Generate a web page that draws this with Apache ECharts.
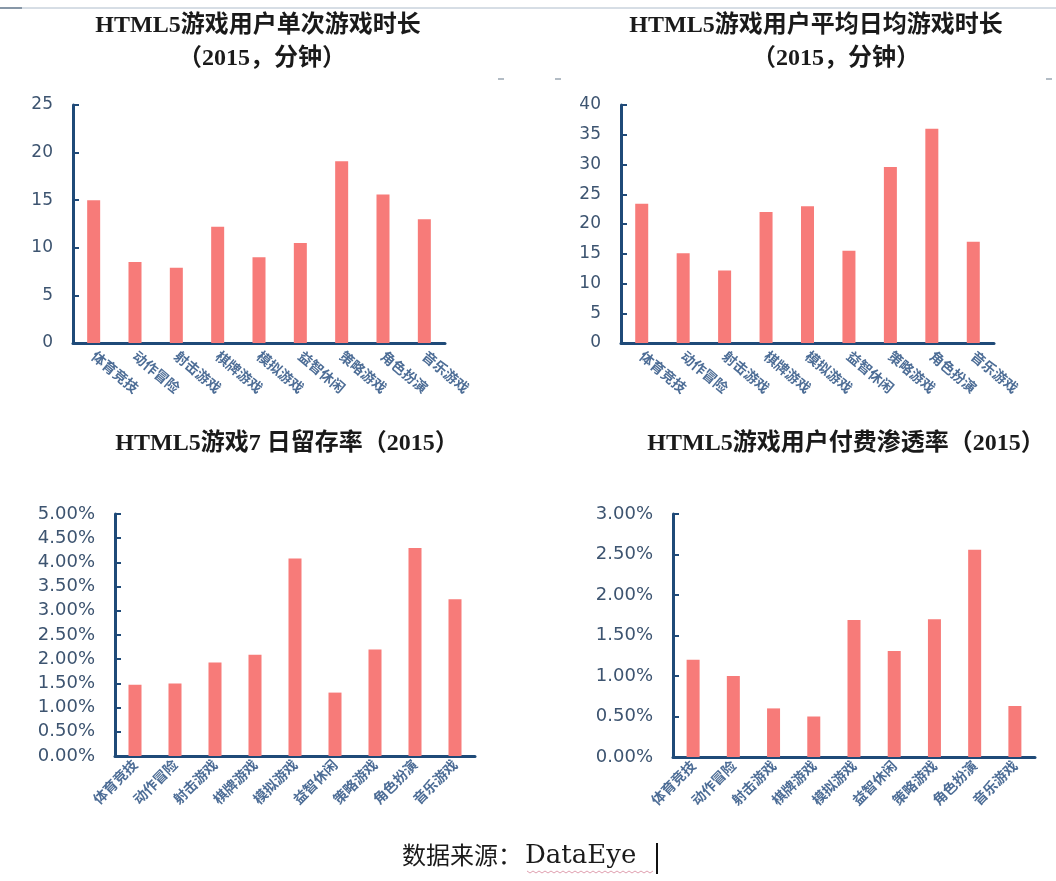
<!DOCTYPE html>
<html>
<head>
<meta charset="utf-8">
<title>HTML5游戏用户数据（2015）</title>
<script src="https://cdn.jsdelivr.net/npm/echarts@6/dist/echarts.min.js"></script>
<style>
  html, body { margin: 0; padding: 0; background: #ffffff; }
  #chart { width: 1056px; height: 881px; }
</style>
</head>
<body>
<div id="chart"></div>
<script>
// Game genres (shared by all four panels)
const categories = ['体育竞技', '动作冒险', '射击游戏', '棋牌游戏', '模拟游戏', '益智休闲', '策略游戏', '角色扮演', '音乐游戏'];

// Minutes per session
const sessionMinutes = [15.0, 8.5, 7.9, 12.2, 9.0, 10.5, 19.1, 15.6, 13.0];
// Average daily minutes
const dailyMinutes = [23.4, 15.1, 12.2, 22.0, 23.0, 15.5, 29.6, 36.0, 17.0];
// 7-day retention, percent
const retention7d = [1.47, 1.50, 1.93, 2.09, 4.08, 1.31, 2.20, 4.30, 3.24];
// Paying-user penetration, percent
const payRate = [1.20, 1.00, 0.60, 0.50, 1.69, 1.31, 1.70, 2.56, 0.63];

const titles = [
  ['HTML5游戏用户单次游戏时长', '（2015，分钟）'],
  ['HTML5游戏用户平均日均游戏时长', '（2015，分钟）'],
  ['HTML5游戏7 日留存率（2015）'],
  ['HTML5游戏用户付费渗透率（2015）']
];
const sourceText = '数据来源：';
const sourceName = 'DataEye';

const AXIS_COLOR = '#1f4a78';
const BAR_COLOR = '#f77b79';
const YLABEL_COLOR = '#3d5470';
const XLABEL_COLOR = '#4d6d96';
const TITLE_FONT = "'Liberation Serif', 'Noto Sans CJK SC', serif";

const panels = [
  { grid: { left: 73, top: 105, width: 372, height: 238 }, data: sessionMinutes, max: 25, interval: 5, pct: false, rotate: -40 },
  { grid: { left: 621, top: 105, width: 373, height: 238 }, data: dailyMinutes, max: 40, interval: 5, pct: false, rotate: -40 },
  { grid: { left: 115, top: 514, width: 360, height: 242 }, data: retention7d, max: 5, interval: 0.5, pct: true, rotate: 45 },
  { grid: { left: 673, top: 514, width: 362, height: 243 }, data: payRate, max: 3, interval: 0.5, pct: true, rotate: 45 }
];

const option = {
  backgroundColor: '#ffffff',
  animation: false,
  title: [
    { text: titles[0][0], left: 258, top: 14, textAlign: 'center' },
    { text: titles[0][1], left: 262, top: 47, textAlign: 'center' },
    { text: titles[1][0], left: 816, top: 14, textAlign: 'center' },
    { text: titles[1][1], left: 836, top: 47, textAlign: 'center' },
    { text: titles[2][0], left: 287, top: 432, textAlign: 'center' },
    { text: titles[3][0], left: 846, top: 432, textAlign: 'center' }
  ].map(t => Object.assign(t, {
    padding: 0,
    textStyle: { fontFamily: TITLE_FONT, fontSize: 24, fontWeight: 'bold', color: '#1a1a1a' }
  })),
  grid: panels.map(p => Object.assign({ containLabel: false }, p.grid)),
  xAxis: panels.map((p, i) => ({
    type: 'category',
    gridIndex: i,
    data: categories,
    axisLine: { lineStyle: { color: AXIS_COLOR, width: 3 } },
    axisTick: { show: false },
    axisLabel: {
      interval: 0,
      rotate: p.rotate,
      margin: p.rotate < 0 ? 11 : 6,
      color: XLABEL_COLOR,
      fontSize: 14,
      fontWeight: 'bold',
      fontFamily: "'Noto Sans CJK SC', sans-serif"
    }
  })),
  yAxis: panels.map((p, i) => ({
    type: 'value',
    gridIndex: i,
    min: 0,
    max: p.max,
    interval: p.interval,
    axisLine: { show: true, lineStyle: { color: AXIS_COLOR, width: 3 } },
    axisTick: { show: true, inside: true, length: 6, lineStyle: { color: AXIS_COLOR, width: 2 } },
    splitLine: { show: false },
    axisLabel: {
      color: YLABEL_COLOR,
      fontSize: p.pct ? 18 : 17,
      fontFamily: "'DejaVu Sans', sans-serif",
      margin: 20,
      formatter: p.pct ? (v => v.toFixed(2) + '%') : (v => String(v))
    }
  })),
  series: panels.map((p, i) => ({
    type: 'bar',
    xAxisIndex: i,
    yAxisIndex: i,
    data: p.data,
    barWidth: 13,
    itemStyle: { color: BAR_COLOR },
    silent: true
  })),
  graphic: [
    // thin rule along the top edge
    { type: 'line', shape: { x1: 0, y1: 8, x2: 1056, y2: 8 }, style: { stroke: '#aebccb', lineWidth: 1 } },
    { type: 'line', shape: { x1: 0, y1: 8, x2: 22, y2: 8 }, style: { stroke: '#6d7f92', lineWidth: 1.5 } },
    // small stray marks between the upper panels
    { type: 'line', shape: { x1: 498, y1: 79, x2: 504, y2: 79 }, style: { stroke: '#9aa6b2', lineWidth: 1.5 } },
    { type: 'line', shape: { x1: 555, y1: 79, x2: 561, y2: 79 }, style: { stroke: '#9aa6b2', lineWidth: 1.5 } },
    { type: 'line', shape: { x1: 1046, y1: 79, x2: 1052, y2: 79 }, style: { stroke: '#9aa6b2', lineWidth: 1.5 } },
    // source note
    {
      type: 'text', left: 402, top: 843,
      style: { text: sourceText, font: "24px 'Noto Sans CJK SC', sans-serif", fill: '#1a1a1a' }
    },
    {
      type: 'text', left: 525, top: 843,
      style: { text: sourceName, font: "26px 'DejaVu Serif', serif", fill: '#1a1a1a' }
    },
    // spell-check squiggle under the name and the text cursor
    {
      type: 'polyline',
      shape: { points: [[527,871],[530,873],[533,871],[536,873],[539,871],[542,873],[545,871],[548,873],[551,871],[554,873],[557,871],[560,873],[563,871],[566,873],[569,871],[572,873],[575,871],[578,873],[581,871],[584,873],[587,871],[590,873],[593,871],[596,873],[599,871],[602,873],[605,871],[608,873],[611,871],[614,873],[617,871],[620,873],[623,871],[626,873],[629,871],[632,873],[635,871],[638,873],[641,871],[644,873],[647,871],[650,873],[653,871]] },
      style: { stroke: '#e0a0b0', lineWidth: 1, fill: null }
    },
    { type: 'line', shape: { x1: 657, y1: 843, x2: 657, y2: 874 }, style: { stroke: '#111111', lineWidth: 2 } }
  ]
};

const chart = echarts.init(document.getElementById('chart'), null, { renderer: 'canvas' });
chart.setOption(option);
</script>
</body>
</html>
